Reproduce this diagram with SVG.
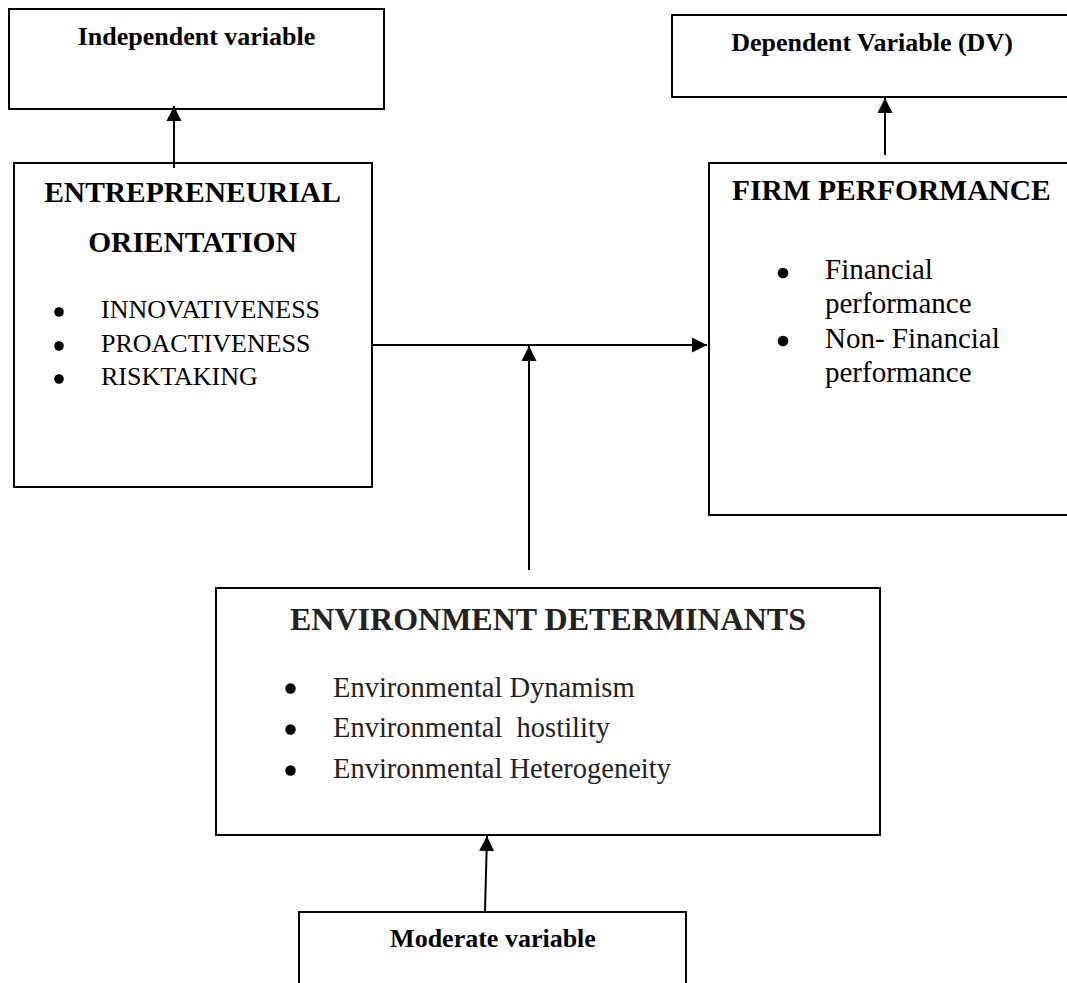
<svg xmlns="http://www.w3.org/2000/svg" width="1067" height="983" viewBox="0 0 1067 983">
<style>
.box{fill:#fff;stroke:#000;stroke-width:2}
.conn{stroke:#000;stroke-width:2;fill:none}
.lbl{font-family:"Liberation Serif","Times New Roman",serif;font-weight:bold;font-size:26px;fill:#000}
.ttl{font-family:"Liberation Serif","Times New Roman",serif;font-weight:bold;font-size:29.5px;fill:#000}
.ttl2{font-family:"Liberation Serif","Times New Roman",serif;font-weight:bold;font-size:32px;fill:#222}
.itm{font-family:"Liberation Serif","Times New Roman",serif;font-size:26px;fill:#000}
.itm2{font-family:"Liberation Serif","Times New Roman",serif;font-size:29px;fill:#000}
.itm3{font-family:"Liberation Serif","Times New Roman",serif;font-size:28.5px;fill:#222}
.bul{fill:#000}
.mid{text-anchor:middle}
</style>
<defs>
<marker id="ah" markerUnits="userSpaceOnUse" markerWidth="16" markerHeight="16" refX="15" refY="8" orient="auto">
<path d="M0,0.5 L15,8 L0,15.5 z" fill="#000"/>
</marker>
</defs>
<rect width="1067" height="983" fill="#fff"/>

<g id="independent-variable">
<rect class="box" x="9" y="9" width="375" height="100"/>
<text class="lbl mid" x="196.5" y="45">Independent variable</text>
</g>

<g id="dependent-variable">
<rect class="box" x="672" y="15" width="420" height="82"/>
<text class="lbl mid" x="872" y="51">Dependent Variable (DV)</text>
</g>

<g id="entrepreneurial-orientation">
<rect class="box" x="14" y="163" width="358" height="324"/>
<text class="ttl mid" x="192.5" y="202">ENTREPRENEURIAL</text>
<text class="ttl mid" x="192.5" y="252">ORIENTATION</text>
<circle class="bul" cx="59" cy="312" r="4.8"/>
<circle class="bul" cx="59" cy="346" r="4.8"/>
<circle class="bul" cx="59" cy="379" r="4.8"/>
<text class="itm" x="101" y="318">INNOVATIVENESS</text>
<text class="itm" x="101" y="352">PROACTIVENESS</text>
<text class="itm" x="101" y="385">RISKTAKING</text>
</g>

<g id="firm-performance">
<rect class="box" x="709" y="163" width="380" height="352"/>
<text class="ttl" x="732" y="200">FIRM PERFORMANCE</text>
<circle class="bul" cx="783" cy="273" r="5.3"/>
<circle class="bul" cx="783" cy="341" r="5.3"/>
<text class="itm2" x="825" y="279">Financial</text>
<text class="itm2" x="825" y="313">performance</text>
<text class="itm2" x="825" y="348">Non- Financial</text>
<text class="itm2" x="825" y="382">performance</text>
</g>

<g id="environment-determinants">
<rect class="box" x="216" y="588" width="664" height="247"/>
<text class="ttl2" x="290" y="630">ENVIRONMENT DETERMINANTS</text>
<circle class="bul" cx="290.5" cy="688.5" r="5.2"/>
<circle class="bul" cx="290.5" cy="729.5" r="5.2"/>
<circle class="bul" cx="290.5" cy="770.5" r="5.2"/>
<text class="itm3" x="333" y="697" xml:space="preserve">Environmental Dynamism</text>
<text class="itm3" x="333" y="737" xml:space="preserve">Environmental  hostility</text>
<text class="itm3" x="333" y="778" xml:space="preserve">Environmental Heterogeneity</text>
</g>

<g id="moderate-variable">
<rect class="box" x="299" y="912" width="387" height="100"/>
<text class="lbl mid" x="493" y="947">Moderate variable</text>
</g>

<g id="connectors">
<line class="conn" x1="174" y1="168" x2="174" y2="106" marker-end="url(#ah)"/>
<line class="conn" x1="885" y1="155" x2="885" y2="98" marker-end="url(#ah)"/>
<line class="conn" x1="372" y1="345" x2="707" y2="345" marker-end="url(#ah)"/>
<line class="conn" x1="529" y1="570" x2="529" y2="346" marker-end="url(#ah)"/>
<line class="conn" x1="485" y1="911" x2="487" y2="836" marker-end="url(#ah)"/>
</g>
</svg>
